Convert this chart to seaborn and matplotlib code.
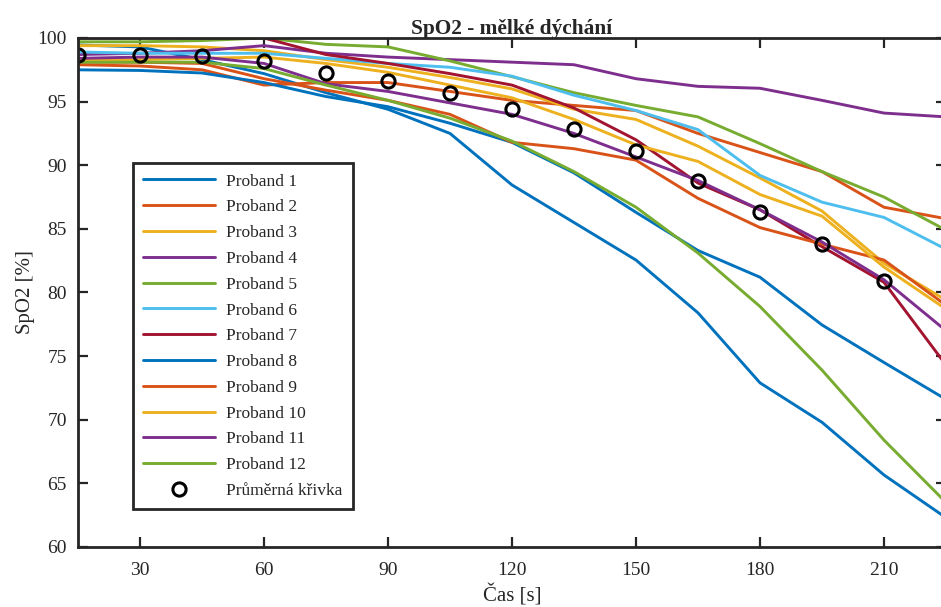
import numpy as np
import pandas as pd
import matplotlib
matplotlib.use("Agg")
import matplotlib.pyplot as plt
from matplotlib.lines import Line2D
import seaborn as sns

# ---- data ----
time_s = [15, 30, 45, 60, 75, 90, 105, 120, 135, 150, 165, 180, 195, 210, 225]
proband_names = [f"Proband {i}" for i in range(1, 13)]

p1 = [99.45, 99.3, 98.3, 97.2, 95.7, 94.4, 92.5, 88.45, 85.5, 82.55, 78.4, 72.9, 69.8, 65.66, 62.3]
p2 = [97.9, 97.8, 97.5, 96.3, 96.5, 96.5, 95.8, 95.1, 94.7, 94.3, 92.5, 91.0, 89.5, 86.7, 85.8]
p3 = [99.4, 99.4, 99.3, 99.0, 98.3, 97.7, 96.9, 96.0, 94.4, 93.6, 91.5, 89.0, 86.4, 82.3, 79.4]
p4 = [98.7, 98.8, 99.0, 99.4, 98.8, 98.5, 98.3, 98.1, 97.9, 96.8, 96.2, 96.05, 95.1, 94.1, 93.8]
p5 = [99.7, 99.7, 99.8, 100.0, 99.5, 99.3, 98.2, 96.96, 95.7, 94.7, 93.8, 91.7, 89.5, 87.5, 84.9]
p6 = [98.9, 98.8, 98.8, 98.8, 98.4, 98.0, 97.7, 97.0, 95.5, 94.3, 92.8, 89.2, 87.1, 85.9, 83.4]
p7 = [100.0, 100.0, 100.0, 100.0, 98.7, 98.0, 97.2, 96.3, 94.5, 92.0, 88.6, 86.5, 83.6, 80.8, 74.3]
p8 = [97.5, 97.45, 97.25, 96.5, 95.4, 94.6, 93.3, 91.8, 89.4, 86.3, 83.3, 81.2, 77.45, 74.5, 71.6]
p9 = [98.1, 98.1, 98.0, 96.8, 95.9, 95.1, 94.0, 91.8, 91.3, 90.4, 87.4, 85.1, 83.8, 82.55, 79.0]
p10 = [98.3, 98.3, 98.4, 98.5, 98.0, 97.3, 96.3, 95.3, 93.6, 91.6, 90.3, 87.7, 86.0, 82.0, 78.7]
p11 = [98.4, 98.5, 98.5, 98.0, 96.4, 95.8, 94.9, 94.0, 92.5, 90.65, 88.8, 86.5, 83.97, 81.0, 77.0]
p12 = [98.1, 98.1, 98.1, 97.6, 96.3, 95.1, 93.7, 91.9, 89.5, 86.7, 83.1, 78.9, 73.9, 68.4, 63.5]
series = [p1, p2, p3, p4, p5, p6, p7, p8, p9, p10, p11, p12]

mean_time = [15, 30, 45, 60, 75, 90, 105, 120, 135, 150, 165, 180, 195, 210]
mean_vals = [98.66, 98.66, 98.6, 98.17, 97.27, 96.65, 95.65, 94.42, 92.85, 91.12, 88.79, 86.35, 83.79, 80.93]

x_ticks = [30, 60, 90, 120, 150, 180, 210]
y_ticks = [60, 65, 70, 75, 80, 85, 90, 95, 100]

colors = ["#0072BD", "#D95319", "#EDB120", "#7E2F8E", "#77AC30", "#4DBEEE",
          "#A2142F", "#0072BD", "#D95319", "#EDB120", "#7E2F8E", "#77AC30"]

# ---- frame ----
rows = []
for name, vals in zip(proband_names, series):
    for t, v in zip(time_s, vals):
        rows.append({"t": t, "spo2": v, "proband": name})
df = pd.DataFrame(rows)
df_mean = pd.DataFrame({"t": mean_time, "spo2": mean_vals})

sns.set_style("ticks")
plt.rcParams["font.family"] = ["Liberation Serif", "DejaVu Serif"]

W, H = 941, 607
fig = plt.figure(figsize=(W / 100, H / 100), dpi=100)
L, R, T, B = 78, 946, 38, 547
ax = fig.add_axes([L / W, (H - B) / H, (R - L) / W, (B - T) / H])

sns.lineplot(data=df, x="t", y="spo2", hue="proband", hue_order=proband_names,
             palette=colors, linewidth=2.1, ax=ax, legend=False, estimator=None, sort=False)
sns.lineplot(data=df_mean, x="t", y="spo2", ax=ax, legend=False, color="black",
             marker="o", markersize=9.5, markerfacecolor="none", markeredgecolor="black",
             markeredgewidth=2.2, linestyle="none")

ax.set_xlim(15, 225)
ax.set_ylim(60, 100)
ax.set_xticks(x_ticks)
ax.set_yticks(y_ticks)
ax.tick_params(direction="in", length=7, width=1.6, top=True, right=True,
               labelsize=14, colors="#262626")
ax.tick_params(axis="x", pad=11)
ax.tick_params(axis="y", pad=8)
for s in ax.spines.values():
    s.set_linewidth(2.0)
    s.set_color("#262626")

ax.set_title("SpO2 - mělké dýchání", fontsize=15.4, fontweight="bold", pad=3)
ax.set_xlabel("Čas [s]", fontsize=15, labelpad=4)
ax.set_ylabel("SpO2 [%]", fontsize=15, labelpad=2)

handles = [Line2D([0], [0], color=c, lw=2.1) for c in colors]
handles.append(Line2D([0], [0], color="black", marker="o", linestyle="none",
                      markersize=9.5, markerfacecolor="none", markeredgewidth=2.2))
labels = proband_names + ["Průměrná křivka"]
leg = ax.legend(handles, labels, loc="upper left",
                bbox_to_anchor=((133 - L) / (R - L), (B - 163) / (B - T)),
                borderaxespad=0, fontsize=12.5, frameon=True, fancybox=False,
                handlelength=4.1, handletextpad=0.65, labelspacing=0.555,
                borderpad=0.6)
leg.get_frame().set_edgecolor("#262626")
leg.get_frame().set_linewidth(2.0)
leg.get_frame().set_alpha(1)

fig.savefig("out.png", dpi=100)
